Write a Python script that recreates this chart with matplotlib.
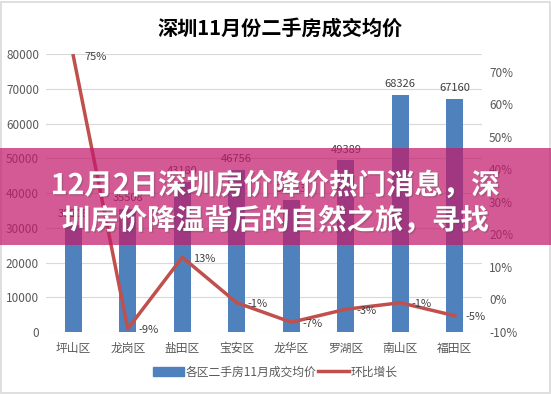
import numpy as np
import matplotlib.pyplot as plt
from matplotlib.patches import Rectangle
from matplotlib.lines import Line2D
import matplotlib.patheffects as pe

plt.rcParams['font.family'] = ['Noto Sans CJK SC', 'DejaVu Sans']

# data
districts = ['坪山区', '龙岗区', '盐田区', '宝安区', '龙华区', '罗湖区', '南山区', '福田区']
avg_price = [30806, 35508, 43180, 46756, 38123, 49389, 68326, 67160]
mom_change = [75, -9, 13, -1, -7, -3, -1, -5]
left_ticks = [0, 10000, 20000, 30000, 40000, 50000, 60000, 70000, 80000]
right_ticks = [-10, 0, 10, 20, 30, 40, 50, 60, 70]

bar_color = '#4F81BD'
line_color = '#C0504D'
text_color = '#595959'

fig = plt.figure(figsize=(5.51, 3.95), dpi=100)
ax = fig.add_axes([0.0835, 0.1595, 0.7915, 0.7035])
ax2 = ax.twinx()

x = np.arange(len(districts))
ax.bar(x, avg_price, width=0.31, color=bar_color, zorder=2)
ax.set_ylim(0, 80000)
ax.set_xlim(-0.5, len(districts) - 0.5)
ax.set_yticks(left_ticks)
ax.set_yticklabels([str(v) for v in left_ticks])
ax.set_xticks(x)
ax.set_xticklabels(districts)
ax.grid(axis='y', color='#D9D9D9', linewidth=0.8, zorder=0)
ax.tick_params(axis='y', length=0, labelsize=8.5, colors=text_color, pad=5)
ax.tick_params(axis='x', length=0, labelsize=8.5, colors=text_color, pad=7)
for s in ax.spines.values():
    s.set_visible(False)
for xi, v in zip(x, avg_price):
    ax.annotate(str(v), (xi, v), xytext=(0, 4), textcoords='offset points',
                ha='center', va='bottom', fontsize=8, color='#404040')

ax2.plot(x, mom_change, color=line_color, linewidth=2.5, zorder=3)
ax2.set_ylim(-10, 75.5)
ax2.set_yticks(right_ticks)
ax2.set_yticklabels([f'{v}%' for v in right_ticks])
ax2.tick_params(length=0, labelsize=8.5, colors=text_color, pad=5)
for s in ax2.spines.values():
    s.set_visible(False)
for xi, v in zip(x, mom_change):
    ax2.annotate(f'{v}%', (xi, v), xytext=(8, -1), textcoords='offset points',
                 ha='left', va='center', fontsize=8, color='#404040')

fig.text(0.508, 0.93, '深圳11月份二手房成交均价', ha='center', va='center',
         fontsize=14.5, fontweight='bold', color='black')

handles = [Rectangle((0, 0), 1, 1, color=bar_color),
           Line2D([0], [0], color=line_color, linewidth=2.5)]
fig.legend(handles, ['各区二手房11月成交均价', '环比增长'], loc='center',
           bbox_to_anchor=(0.5, 0.058), ncol=2, frameon=False, fontsize=8.5,
           handlelength=2.6, handletextpad=0.2, columnspacing=0.1,
           labelcolor=text_color)

# outer frame
fig.patches.append(Rectangle((0.002, 0.004), 0.996, 0.992, transform=fig.transFigure,
                             fill=False, edgecolor='#D9D9D9', linewidth=1.2))

# overlay banner
fig.patches.append(Rectangle((0, 1 - 245 / 395), 1, 97 / 395, transform=fig.transFigure,
                             facecolor=(0.76, 0.1, 0.42), alpha=0.72, zorder=5))
shadow = [pe.withSimplePatchShadow(offset=(1, -1), alpha=0.3)]
fig.text(0.5, 1 - 186 / 395, '12月2日深圳房价降价热门消息，深', ha='center', va='center',
         fontsize=20.5, fontweight='bold', color='white', zorder=6, path_effects=shadow)
fig.text(0.5, 1 - 221 / 395, '圳房价降温背后的自然之旅，寻找', ha='center', va='center',
         fontsize=20.5, fontweight='bold', color='white', zorder=6, path_effects=shadow)

fig.savefig('out.png', dpi=100)
